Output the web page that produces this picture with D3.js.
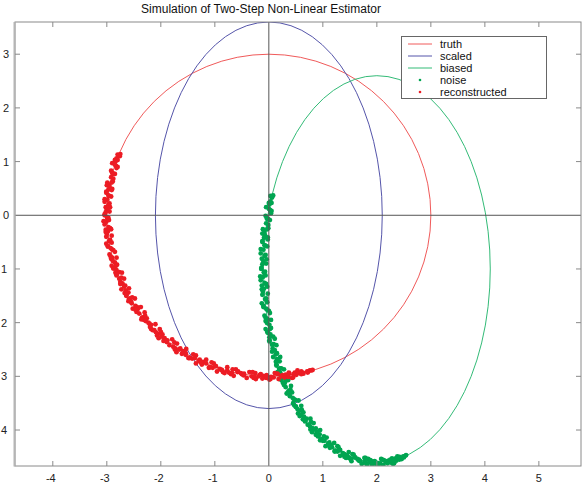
<!DOCTYPE html>
<html><head><meta charset="utf-8">
<script src="https://cdn.jsdelivr.net/npm/d3@7"></script>
<style>body{margin:0;background:#fff;} svg{display:block;font-family:"Liberation Sans",Arial,sans-serif;}</style>
</head><body><svg id="chart" width="582" height="487"></svg>
<script>
const titleText = "Simulation of Two-Step Non-Linear Estimator";
const xTicks = [-4,-3,-2,-1,0,1,2,3,4,5];
const xTickLabels = ["-4","-3","-2","-1","0","1","2","3","4","5"];
const yTicks = [-4,-3,-2,-1,0,1,2,3];
// as visible in the reference (minus signs lie outside the picture)
const yTickLabels = ["4","3","2","1","0","1","2","3"];
const curveNames = ["truth","scaled","biased"];
const curveCenterX = [0,0,2];
const curveCenterY = [0,0,-1];
const curveRadiusX = [3,2.1,2.1];
const curveRadiusY = [3,3.6,3.6];
const legendLabels = ["truth","scaled","biased","noise","reconstructed"];

const reconstructedPoints = [
[-2.80,1.13],[-2.76,1.10],[-2.75,1.14],[-2.78,1.11],
[-2.82,1.06],[-2.85,1.03],[-2.80,1.03],[-2.84,1.00],
[-2.83,0.92],[-2.90,0.97],[-2.80,0.90],[-2.85,0.94],
[-2.90,0.79],[-2.82,0.88],[-2.92,0.83],[-2.87,0.77],
[-2.88,0.68],[-2.85,0.77],[-2.92,0.71],[-2.90,0.79],
[-2.99,0.61],[-2.89,0.63],[-2.96,0.56],[-2.91,0.61],
[-3.00,0.56],[-2.90,0.49],[-2.95,0.53],[-2.97,0.48],
[-2.91,0.47],[-3.01,0.42],[-2.96,0.36],[-3.01,0.44],
[-2.92,0.35],[-2.99,0.29],[-2.97,0.37],[-3.04,0.30],
[-2.95,0.22],[-3.02,0.15],[-2.97,0.20],[-3.04,0.25],
[-2.95,0.07],[-3.00,0.11],[-3.02,0.06],[-2.94,0.15],
[-3.04,0.00],[-2.99,-0.06],[-3.04,0.02],[-2.97,-0.05],
[-3.01,-0.12],[-2.99,-0.04],[-3.06,-0.11],[-2.96,-0.09],
[-3.02,-0.27],[-2.97,-0.22],[-3.04,-0.17],[-2.94,-0.24],
[-2.98,-0.30],[-3.00,-0.35],[-2.92,-0.26],[-3.02,-0.31],
[-2.96,-0.48],[-3.01,-0.40],[-2.94,-0.47],[-2.91,-0.38],
[-2.94,-0.46],[-3.01,-0.53],[-2.91,-0.51],[-2.98,-0.58],
[-2.91,-0.63],[-2.98,-0.58],[-2.88,-0.65],[-2.93,-0.61],
[-2.93,-0.77],[-2.85,-0.68],[-2.95,-0.73],[-2.90,-0.79],
[-2.92,-0.81],[-2.85,-0.88],[-2.82,-0.79],[-2.89,-0.85],
[-2.91,-0.94],[-2.81,-0.92],[-2.88,-0.99],[-2.83,-0.94],
[-2.87,-0.99],[-2.77,-1.06],[-2.82,-1.02],[-2.84,-1.07],
[-2.72,-1.07],[-2.82,-1.12],[-2.77,-1.18],[-2.82,-1.10],
[-2.71,-1.27],[-2.68,-1.18],[-2.75,-1.24],[-2.73,-1.16],
[-2.66,-1.31],[-2.73,-1.38],[-2.68,-1.33],[-2.75,-1.28],
[-2.60,-1.44],[-2.65,-1.40],[-2.67,-1.45],[-2.59,-1.36],
[-2.64,-1.50],[-2.59,-1.56],[-2.64,-1.48],[-2.57,-1.55],
[-2.48,-1.55],[-2.55,-1.61],[-2.53,-1.53],[-2.60,-1.60],
[-2.52,-1.74],[-2.47,-1.69],[-2.54,-1.64],[-2.44,-1.71],
[-2.43,-1.75],[-2.45,-1.80],[-2.37,-1.71],[-2.47,-1.76],
[-2.35,-1.91],[-2.40,-1.83],[-2.33,-1.90],[-2.30,-1.81],
[-2.31,-1.95],[-2.29,-1.87],[-2.36,-1.94],[-2.26,-1.92],
[-2.21,-2.02],[-2.28,-1.97],[-2.18,-2.04],[-2.23,-2.00],
[-2.18,-2.12],[-2.10,-2.03],[-2.20,-2.08],[-2.15,-2.14],
[-2.12,-2.14],[-2.05,-2.21],[-2.02,-2.12],[-2.09,-2.18],
[-2.00,-2.17],[-2.07,-2.24],[-1.97,-2.22],[-2.04,-2.29],
[-1.98,-2.26],[-1.88,-2.33],[-1.93,-2.29],[-1.95,-2.34],
[-1.79,-2.31],[-1.89,-2.36],[-1.84,-2.42],[-1.89,-2.34],
[-1.73,-2.48],[-1.70,-2.39],[-1.77,-2.45],[-1.75,-2.37],
[-1.74,-2.50],[-1.64,-2.48],[-1.71,-2.55],[-1.66,-2.50],
[-1.54,-2.57],[-1.59,-2.53],[-1.61,-2.58],[-1.53,-2.49],
[-1.54,-2.60],[-1.49,-2.66],[-1.54,-2.58],[-1.47,-2.65],
[-1.35,-2.61],[-1.42,-2.67],[-1.40,-2.59],[-1.47,-2.66],
[-1.28,-2.69],[-1.35,-2.76],[-1.30,-2.71],[-1.37,-2.66],
[-1.22,-2.73],[-1.24,-2.78],[-1.16,-2.69],[-1.26,-2.74],
[-1.11,-2.84],[-1.16,-2.76],[-1.09,-2.83],[-1.06,-2.74],
[-1.04,-2.84],[-1.02,-2.76],[-1.09,-2.83],[-0.99,-2.81],
[-0.96,-2.91],[-0.91,-2.86],[-0.98,-2.81],[-0.88,-2.88],
[-0.85,-2.92],[-0.77,-2.83],[-0.87,-2.88],[-0.82,-2.94],
[-0.77,-2.89],[-0.70,-2.96],[-0.67,-2.87],[-0.74,-2.93],
[-0.61,-2.87],[-0.68,-2.94],[-0.58,-2.92],[-0.65,-2.99],
[-0.50,-2.96],[-0.57,-2.91],[-0.47,-2.98],[-0.52,-2.94],
[-0.36,-2.92],[-0.46,-2.97],[-0.41,-3.03],[-0.46,-2.95],
[-0.28,-3.03],[-0.25,-2.94],[-0.32,-3.00],[-0.30,-2.92],
[-0.27,-3.00],[-0.17,-2.98],[-0.24,-3.05],[-0.19,-3.00],
[-0.15,-2.96],[-0.05,-3.03],[-0.10,-2.99],[-0.12,-3.04],
[-0.04,-3.00],[0.01,-3.06],[-0.04,-2.98],[0.03,-3.05],
[0.16,-2.96],[0.09,-3.02],[0.11,-2.94],[0.04,-3.01],
[0.25,-2.98],[0.18,-3.05],[0.23,-3.00],[0.16,-2.95],
[0.36,-3.01],[0.31,-2.97],[0.29,-3.02],[0.37,-2.93],
[0.43,-3.03],[0.38,-2.95],[0.45,-3.02],[0.48,-2.93],
[0.51,-2.97],[0.53,-2.89],[0.46,-2.96],[0.56,-2.94],
[0.60,-2.96],[0.63,-2.93],[0.60,-2.91],[0.64,-2.95],
[0.73,-2.91],[0.72,-2.93],[0.76,-2.89],[0.71,-2.91],
[0.79,-2.89],[0.81,-2.88]
];

const noisePoints = [
[0.03,0.36],[0.06,0.33],[0.08,0.37],[0.05,0.34],
[0.03,0.26],[0.00,0.23],[0.05,0.23],[0.01,0.20],
[0.02,0.10],[-0.05,0.15],[0.05,0.08],[0.00,0.12],
[-0.04,-0.05],[0.04,0.04],[-0.06,-0.01],[-0.01,-0.07],
[-0.01,-0.18],[0.02,-0.09],[-0.05,-0.15],[-0.03,-0.07],
[-0.11,-0.26],[-0.01,-0.24],[-0.08,-0.31],[-0.03,-0.26],
[-0.12,-0.34],[-0.02,-0.41],[-0.07,-0.37],[-0.09,-0.42],
[-0.02,-0.45],[-0.12,-0.50],[-0.07,-0.56],[-0.12,-0.48],
[-0.03,-0.58],[-0.10,-0.64],[-0.08,-0.56],[-0.15,-0.63],
[-0.06,-0.74],[-0.13,-0.81],[-0.08,-0.76],[-0.15,-0.71],
[-0.05,-0.90],[-0.10,-0.86],[-0.12,-0.91],[-0.04,-0.82],
[-0.14,-1.00],[-0.09,-1.06],[-0.14,-0.98],[-0.07,-1.05],
[-0.11,-1.15],[-0.09,-1.07],[-0.16,-1.14],[-0.06,-1.12],
[-0.13,-1.31],[-0.08,-1.26],[-0.15,-1.21],[-0.05,-1.28],
[-0.09,-1.37],[-0.11,-1.42],[-0.03,-1.33],[-0.13,-1.38],
[-0.07,-1.56],[-0.12,-1.48],[-0.05,-1.55],[-0.02,-1.46],
[-0.06,-1.57],[-0.13,-1.64],[-0.03,-1.62],[-0.10,-1.69],
[-0.03,-1.76],[-0.10,-1.71],[0.00,-1.78],[-0.05,-1.74],
[-0.06,-1.91],[0.02,-1.82],[-0.08,-1.87],[-0.03,-1.93],
[-0.06,-1.97],[0.01,-2.04],[0.04,-1.95],[-0.03,-2.01],
[-0.06,-2.12],[0.04,-2.10],[-0.03,-2.17],[0.02,-2.12],
[-0.02,-2.19],[0.08,-2.26],[0.03,-2.22],[0.01,-2.27],
[0.11,-2.30],[0.01,-2.35],[0.06,-2.41],[0.01,-2.33],
[0.11,-2.51],[0.14,-2.42],[0.07,-2.48],[0.09,-2.40],
[0.15,-2.57],[0.08,-2.64],[0.13,-2.59],[0.06,-2.54],
[0.20,-2.72],[0.15,-2.68],[0.13,-2.73],[0.21,-2.64],
[0.14,-2.80],[0.19,-2.86],[0.14,-2.78],[0.21,-2.85],
[0.28,-2.87],[0.21,-2.93],[0.23,-2.85],[0.16,-2.92],
[0.23,-3.07],[0.28,-3.02],[0.21,-2.97],[0.31,-3.04],
[0.30,-3.11],[0.28,-3.16],[0.36,-3.07],[0.26,-3.12],
[0.36,-3.28],[0.31,-3.20],[0.38,-3.27],[0.41,-3.18],
[0.38,-3.33],[0.40,-3.25],[0.33,-3.32],[0.43,-3.30],
[0.46,-3.42],[0.39,-3.37],[0.49,-3.44],[0.44,-3.40],
[0.47,-3.54],[0.55,-3.45],[0.45,-3.50],[0.50,-3.56],
[0.50,-3.57],[0.57,-3.64],[0.60,-3.55],[0.53,-3.61],
[0.61,-3.62],[0.54,-3.69],[0.64,-3.67],[0.57,-3.74],
[0.60,-3.72],[0.70,-3.79],[0.65,-3.75],[0.63,-3.80],
[0.77,-3.79],[0.67,-3.84],[0.72,-3.90],[0.67,-3.82],
[0.80,-3.96],[0.83,-3.87],[0.76,-3.93],[0.78,-3.85],
[0.77,-3.99],[0.87,-3.97],[0.80,-4.04],[0.85,-3.99],
[0.94,-4.08],[0.89,-4.04],[0.87,-4.09],[0.95,-4.00],
[0.91,-4.12],[0.96,-4.18],[0.91,-4.10],[0.98,-4.17],
[1.07,-4.14],[1.00,-4.20],[1.02,-4.12],[0.95,-4.19],
[1.12,-4.23],[1.05,-4.30],[1.10,-4.25],[1.03,-4.20],
[1.15,-4.28],[1.13,-4.33],[1.21,-4.24],[1.11,-4.29],
[1.22,-4.40],[1.17,-4.32],[1.24,-4.39],[1.27,-4.30],
[1.27,-4.40],[1.29,-4.32],[1.22,-4.39],[1.32,-4.37],
[1.32,-4.48],[1.37,-4.43],[1.30,-4.38],[1.40,-4.45],
[1.40,-4.50],[1.48,-4.41],[1.38,-4.46],[1.43,-4.52],
[1.45,-4.47],[1.52,-4.54],[1.55,-4.45],[1.48,-4.51],
[1.57,-4.46],[1.50,-4.53],[1.60,-4.51],[1.53,-4.58],
[1.66,-4.56],[1.59,-4.51],[1.69,-4.58],[1.64,-4.54],
[1.77,-4.52],[1.67,-4.57],[1.72,-4.63],[1.67,-4.55],
[1.81,-4.63],[1.84,-4.54],[1.77,-4.60],[1.79,-4.52],
[1.79,-4.60],[1.89,-4.58],[1.82,-4.65],[1.87,-4.60],
[1.88,-4.56],[1.98,-4.63],[1.93,-4.59],[1.91,-4.64],
[1.96,-4.60],[2.01,-4.66],[1.96,-4.58],[2.03,-4.65],
[2.13,-4.56],[2.06,-4.62],[2.08,-4.54],[2.01,-4.61],
[2.19,-4.58],[2.12,-4.65],[2.17,-4.60],[2.10,-4.55],
[2.27,-4.61],[2.22,-4.57],[2.20,-4.62],[2.28,-4.53],
[2.30,-4.63],[2.25,-4.55],[2.32,-4.62],[2.35,-4.53],
[2.36,-4.57],[2.38,-4.49],[2.31,-4.56],[2.41,-4.54],
[2.42,-4.55],[2.45,-4.52],[2.42,-4.50],[2.46,-4.54],
[2.51,-4.49],[2.50,-4.51],[2.54,-4.47],[2.49,-4.49]
];

const curveColors = ["#f05a5a","#5555aa","#33bb77"];
const noiseColor = "#00a551";
const reconColor = "#ec1c24";

const svg = d3.select("#chart");
const L = 15, R = 581, T = 22, B = 466;
const x = d3.scaleLinear().domain([-4.7, 5.78]).range([L, R]);
const y = d3.scaleLinear().domain([-4.67, 3.6]).range([B, T]);

svg.append("rect").attr("width",582).attr("height",487).attr("fill","#fff");

svg.append("defs").append("clipPath").attr("id","plotclip")
  .append("rect").attr("x",L).attr("y",T).attr("width",R-L).attr("height",B-T);

const plot = svg.append("g").attr("clip-path","url(#plotclip)");

plot.selectAll("ellipse.curve").data(curveNames).join("ellipse")
  .attr("class","curve")
  .attr("cx",(d,i)=>x(curveCenterX[i]))
  .attr("cy",(d,i)=>y(curveCenterY[i]))
  .attr("rx",(d,i)=>x(curveRadiusX[i])-x(0))
  .attr("ry",(d,i)=>y(0)-y(curveRadiusY[i]))
  .attr("fill","none")
  .attr("stroke",(d,i)=>curveColors[i])
  .attr("stroke-width",1);

plot.selectAll("circle.noise").data(noisePoints).join("circle")
  .attr("class","noise")
  .attr("cx",d=>x(d[0])).attr("cy",d=>y(d[1])).attr("r",2.4)
  .attr("fill",noiseColor);

plot.selectAll("circle.recon").data(reconstructedPoints).join("circle")
  .attr("class","recon")
  .attr("cx",d=>x(d[0])).attr("cy",d=>y(d[1])).attr("r",2.4)
  .attr("fill",reconColor);

plot.append("line").attr("x1",x(0)).attr("x2",x(0)).attr("y1",T).attr("y2",B)
  .attr("stroke","#555").attr("stroke-width",1);
plot.append("line").attr("x1",L).attr("x2",R).attr("y1",y(0)).attr("y2",y(0))
  .attr("stroke","#555").attr("stroke-width",1);

svg.append("rect").attr("x",L).attr("y",T).attr("width",R-L).attr("height",B-T)
  .attr("fill","none").attr("stroke","#8a8a8a").attr("stroke-width",1);
svg.append("line").attr("x1",L-0.5).attr("x2",L-0.5).attr("y1",T).attr("y2",B+0.5)
  .attr("stroke","#b5b5b5").attr("stroke-width",2);

const tk = 5;
const xt = xTicks.filter(v=>v!==0);
svg.selectAll("line.xtb").data(xt).join("line").attr("class","xtb")
  .attr("x1",d=>x(d)).attr("x2",d=>x(d)).attr("y1",B).attr("y2",B-tk)
  .attr("stroke","#8a8a8a");
svg.selectAll("line.xtt").data(xt).join("line").attr("class","xtt")
  .attr("x1",d=>x(d)).attr("x2",d=>x(d)).attr("y1",T).attr("y2",T+tk)
  .attr("stroke","#8a8a8a");
const yt = yTicks.filter(v=>v!==0);
svg.selectAll("line.ytl").data(yt).join("line").attr("class","ytl")
  .attr("x1",L).attr("x2",L+tk).attr("y1",d=>y(d)).attr("y2",d=>y(d))
  .attr("stroke","#8a8a8a");
svg.selectAll("line.ytr").data(yt).join("line").attr("class","ytr")
  .attr("x1",R).attr("x2",R-tk).attr("y1",d=>y(d)).attr("y2",d=>y(d))
  .attr("stroke","#8a8a8a");

svg.selectAll("text.xl").data(xTicks).join("text").attr("class","xl")
  .attr("x",d=>x(d) - (d<0?2:0)).attr("y",B+16)
  .attr("text-anchor","middle").attr("font-size",11).attr("fill","#222")
  .text((d,i)=>xTickLabels[i]);
svg.selectAll("text.yl").data(yTicks).join("text").attr("class","yl")
  .attr("x",d=>d<0?7:9).attr("y",d=>y(d)+4)
  .attr("text-anchor","end").attr("font-size",11).attr("fill","#222")
  .text((d,i)=>yTickLabels[i]);

svg.append("text").attr("x",261).attr("y",13).attr("text-anchor","middle")
  .attr("font-size",12).attr("fill","#111").text(titleText);

const lg = svg.append("g");
lg.append("rect").attr("x",401.5).attr("y",36.5).attr("width",145).attr("height",62)
  .attr("fill","#fff").attr("stroke","#666").attr("stroke-width",1);
const rowY = i => 44 + i*12;
legendLabels.forEach((lab,i)=>{
  if(i<3){
    lg.append("line").attr("x1",408).attr("x2",432).attr("y1",rowY(i)).attr("y2",rowY(i))
      .attr("stroke",curveColors[i]).attr("stroke-width",1);
  } else {
    lg.append("circle").attr("cx",420).attr("cy",rowY(i)).attr("r",1.3)
      .attr("fill", i===3?noiseColor:reconColor);
  }
  lg.append("text").attr("x",440).attr("y",rowY(i)+4).attr("font-size",11)
    .attr("fill","#111").text(lab);
});
</script>
</body></html>
